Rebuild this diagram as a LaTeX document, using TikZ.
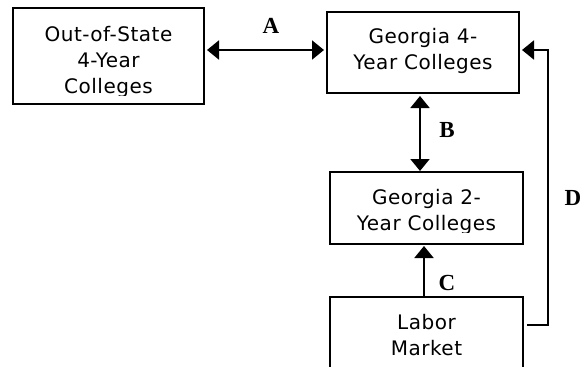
\documentclass[tikz,border=0pt]{standalone}
\usepackage{fontspec}
\setmainfont{DejaVu Sans}[LetterSpace=2.5]
\newfontfamily\lblfont{Liberation Serif Bold}
\usetikzlibrary{arrows.meta}
\begin{document}
\begin{tikzpicture}[x=1pt,y=-1pt,
  box/.style={draw, line width=2pt, inner sep=0pt},
  txt/.style={align=center, anchor=base, font=\fontsize{20}{26}\selectfont, inner sep=0pt},
  lbl/.style={font=\lblfont\fontsize{23}{24}\selectfont, inner sep=0pt, anchor=base},
  conn/.style={line width=2pt, -{Triangle[length=12pt,width=19pt]}},
  bconn/.style={line width=2pt, {Triangle[length=12pt,width=19pt]}-{Triangle[length=12pt,width=19pt]}}
  ]
\useasboundingbox (0,0) rectangle (582,367);
\clip (0,0) rectangle (582,367);
\node[box, minimum width=191pt, minimum height=96pt] (oos) at (108.5,56) {};
\node[box, minimum width=192pt, minimum height=81pt] (g4) at (423,52.5) {};
\node[box, minimum width=193pt, minimum height=72pt] (g2) at (426.5,208) {};
\node[box, minimum width=193pt, minimum height=78pt] (lm) at (426.5,336) {};
\begin{scope}
\clip (10,10) rectangle (207,95);
\node[txt] (oosT) at (108.5,93) {Out-of-State\\4-Year\\Colleges};
\end{scope}
\node[txt] (g4T) at (423,69) {Georgia 4-\\Year Colleges};
\begin{scope}
\clip (328,175) rectangle (525,232);
\node[txt] (g2T) at (426.5,230) {Georgia 2-\\Year Colleges};
\end{scope}
\node[txt] (lmT) at (426.5,355) {Labor\\Market};
\coordinate (ya) at (0,50);
\coordinate (xb) at (420,0);
\coordinate (xc) at (424,0);
\coordinate (dc) at (548,325);
\draw[bconn] ([xshift=2pt]oos.east |- ya) -- ([xshift=-2pt]g4.west |- ya);
\draw[bconn] ([yshift=-2pt]xb |- g4.south) -- (xb |- g2.north);
\draw[conn] (xc |- lm.north) -- ([yshift=-1pt]xc |- g2.south);
\draw[conn] ([xshift=3pt]lm.east |- dc) -- (dc) -- (dc |- ya) -- ([xshift=2pt]g4.east |- ya);
\node[lbl] (la) at (271,33) {A};
\node[lbl] (lb) at (447,137) {B};
\node[lbl] (lc) at (447,290) {C};
\node[lbl] (ld) at (573,205) {D};
\end{tikzpicture}
\end{document}
